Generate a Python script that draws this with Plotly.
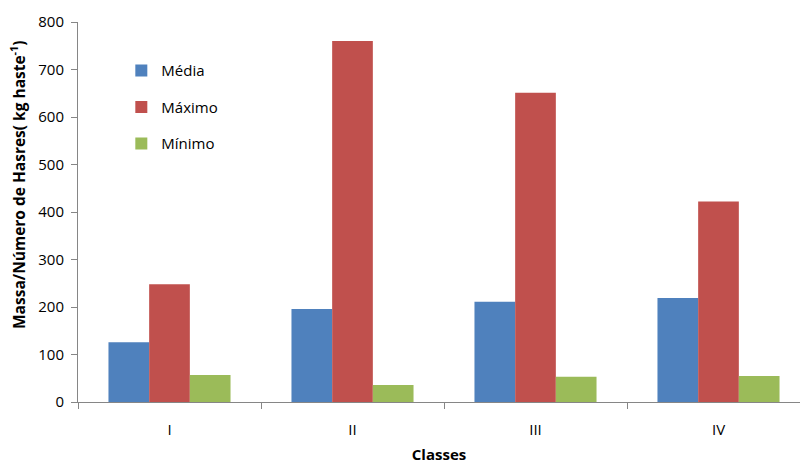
import plotly.graph_objects as go

classes = ["I", "II", "III", "IV"]
media = [126, 196, 211, 219]
maximo = [248, 760, 651, 422]
minimo = [57, 36, 53, 55]

series = [
    ("Média", media, "#4F81BD"),
    ("Máximo", maximo, "#C0504D"),
    ("Mínimo", minimo, "#9BBB59"),
]

font_family = "Open Sans, Noto Sans, sans-serif"
W, H = 801, 464
L, R, T, B = 78, 1, 22, 62

fig = go.Figure()
for i, (name, vals, color) in enumerate(series):
    fig.add_trace(go.Bar(
        name=name, x=classes, y=vals,
        marker=dict(color=color, line=dict(width=0)),
        legendgroup=f"g{i}",
    ))

# vertical axis title, placed as a rotated label left of the tick labels
fig.add_annotation(
    text="<b>Massa/Número de Hasres( kg haste<sup>-1</sup>)</b>",
    xref="paper", yref="paper",
    x=(18 - L) / (W - L - R), y=(H - B - 185) / (H - T - B),
    xanchor="center", yanchor="middle", textangle=-90, showarrow=False,
    font=dict(size=15.5, color="#000000"),
)

fig.update_layout(
    width=W, height=H,
    margin=dict(l=L, r=R, t=T, b=B),
    paper_bgcolor="white", plot_bgcolor="white",
    barmode="group", bargap=0.333, bargroupgap=0,
    font=dict(family=font_family, size=14, color="#000000"),
    legend=dict(
        x=0.06, y=0.915, xanchor="left", yanchor="top",
        traceorder="grouped", tracegroupgap=14,
        font=dict(size=15, color="#000000"),
        bgcolor="rgba(0,0,0,0)",
        itemwidth=30,
    ),
    xaxis=dict(
        range=[-0.5, (W - L - R) / 183 - 0.5],
        showline=True, linecolor="#868686", linewidth=1,
        ticks="outside", tickson="boundaries", ticklen=6, tickcolor="#868686",
        showgrid=False, zeroline=False,
        tickfont=dict(size=15),
        ticklabelstandoff=14,
        title=dict(text="<b>Classes</b>", font=dict(size=15), standoff=12),
    ),
    yaxis=dict(
        range=[0, 800], dtick=100,
        showline=True, linecolor="#868686", linewidth=1,
        ticks="outside", ticklen=6, tickcolor="#868686",
        showgrid=False, zeroline=False,
        tickfont=dict(size=15),
        ticklabelstandoff=4,
    ),
)

fig.write_html("out.html")
